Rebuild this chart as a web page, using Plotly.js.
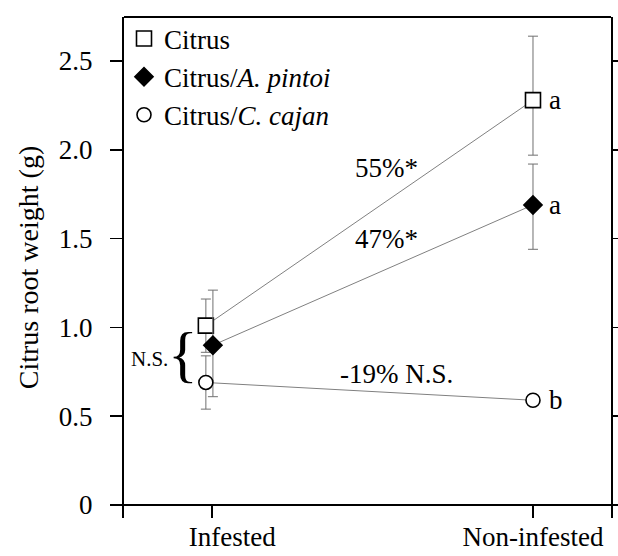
<!DOCTYPE html>
<html>
<head>
<meta charset="utf-8">
<script src="https://cdn.plot.ly/plotly-3.0.1.min.js"></script>
<style>html,body{margin:0;padding:0;background:#fff;}#chart{width:618px;height:556px;}</style>
</head>
<body>
<div id="chart"></div>
<script>
// ---- data ----
const categories = ['Infested', 'Non-infested'];
const seriesNames = ['Citrus', 'Citrus/<i>A. pintoi</i>', 'Citrus/<i>C. cajan</i>'];
const citrus = [1.01, 2.28];
const citrusErrPlus = [0.15, 0.36];
const citrusErrMinus = [0.15, 0.31];
const pintoi = [0.90, 1.69];
const pintoiErrPlus = [0.31, 0.23];
const pintoiErrMinus = [0.29, 0.25];
const cajan = [0.69, 0.59];
const cajanErrPlus = [0.15, 0.02];
const cajanErrMinus = [0.15, 0.02];
const sigLetters = ['a', 'a', 'b'];
const yTickVals = [0, 0.5, 1.0, 1.5, 2.0, 2.5];
const yTickLabels = ['0', '0.5', '1.0', '1.5', '2.0', '2.5'];
const changeLabels = ['55%*', '47%*', '-19% N.S.'];

// ---- styling ----
const FONT = 'Liberation Serif, Times New Roman, serif';
const xIdx = categories.map((c, i) => i);
const jitter = [[-0.019, 0], [0.003, 0], [-0.019, 0]];
const xs = jitter.map(j => xIdx.map((x, i) => x + j[i]));
// the first category label sits a little right of its tick in the original
const labelPad = ['\u2002\u2002\u2002', ''];
const tickText = categories.map((c, i) => labelPad[i] + c);

const values = [citrus, pintoi, cajan];
const errP = [citrusErrPlus, pintoiErrPlus, cajanErrPlus];
const errM = [citrusErrMinus, pintoiErrMinus, cajanErrMinus];
const symbols = ['square', 'diamond', 'circle'];
const fills = ['#ffffff', '#000000', '#ffffff'];
const sizes = [15, 14, 14];

const traces = [];
values.forEach((v, k) => {
  traces.push({
    x: xs[k], y: v, type: 'scatter', mode: 'lines', showlegend: false,
    line: {color: '#808080', width: 1}, hoverinfo: 'skip'
  });
});
values.forEach((v, k) => {
  traces.push({
    x: xs[k], y: v, type: 'scatter', mode: 'markers', name: seriesNames[k],
    marker: {symbol: symbols[k], size: sizes[k], color: fills[k], line: {color: '#000', width: 1.6}},
    error_y: {type: 'data', symmetric: false, array: errP[k], arrayminus: errM[k],
              color: '#707070', thickness: 1, width: 5}
  });
});

const annotations = [];
values.forEach((v, k) => {
  annotations.push({x: xIdx[1], y: v[1], xref: 'x', yref: 'y', text: sigLetters[k],
    showarrow: false, xanchor: 'left', xshift: 14, font: {family: FONT, size: 27, color: '#000'}});
});
const changePos = [[0.545, 1.90], [0.545, 1.50], [0.576, 0.74]];
changeLabels.forEach((t, k) => {
  annotations.push({x: changePos[k][0], y: changePos[k][1], xref: 'x', yref: 'y', text: t,
    showarrow: false, font: {family: FONT, size: 27, color: '#000'}});
});
annotations.push({x: -0.09, y: 0.85, xref: 'x', yref: 'y', text: '{', showarrow: false,
  font: {family: FONT, size: 62, color: '#000'}});
annotations.push({x: -0.195, y: 0.82, xref: 'x', yref: 'y', text: 'N.S.', showarrow: false,
  font: {family: FONT, size: 21, color: '#000'}});

const layout = {
  width: 618, height: 556,
  margin: {l: 124, r: 7, t: 17, b: 38},
  paper_bgcolor: '#fff', plot_bgcolor: '#fff',
  font: {family: FONT, size: 27, color: '#000'},
  showlegend: true,
  legend: {x: 0.0, y: 1.005, xanchor: 'left', yanchor: 'top', bgcolor: 'rgba(0,0,0,0)',
           font: {family: FONT, size: 27, color: '#000'}, itemwidth: 30, tracegroupgap: 0},
  xaxis: {
    range: [-0.274, 1.243], tickvals: xIdx, ticktext: tickText,
    ticks: 'inside', ticklen: 13, tickwidth: 1.5, tickcolor: '#000',
    showline: false, showgrid: false, zeroline: false,
    tickfont: {family: FONT, size: 27, color: '#000'}, ticklabelstandoff: 0
  },
  yaxis: {
    range: [-0.073, 2.748], tickvals: yTickVals, ticktext: yTickLabels,
    ticks: 'outside', ticklen: 12, tickwidth: 1.5, tickcolor: '#000',
    showline: true, linewidth: 2, linecolor: '#000', mirror: 'ticks',
    showgrid: false, zeroline: true, zerolinewidth: 2, zerolinecolor: '#000',
    tickfont: {family: FONT, size: 27, color: '#000'}, ticklabelstandoff: 12,
    title: {text: 'Citrus root weight (g)', font: {family: FONT, size: 28, color: '#000'}, standoff: 12}
  },
  shapes: [{type: 'line', xref: 'paper', yref: 'paper', x0: 0, x1: 1, y0: 1, y1: 1,
            line: {color: '#000', width: 2}}],
  annotations: annotations
};

Plotly.newPlot('chart', traces, layout, {displayModeBar: false, staticPlot: true});
</script>
</body>
</html>
